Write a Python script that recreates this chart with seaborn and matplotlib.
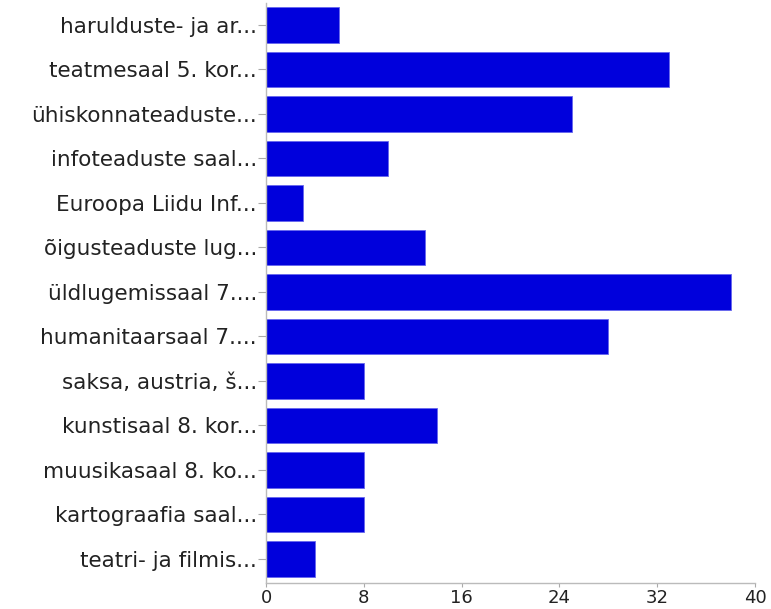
import matplotlib
matplotlib.use("Agg")
import matplotlib.pyplot as plt
import seaborn as sns
import pandas as pd

categories = [
    "harulduste- ja ar...",
    "teatmesaal 5. kor...",
    "ühiskonnateaduste...",
    "infoteaduste saal...",
    "Euroopa Liidu Inf...",
    "õigusteaduste lug...",
    "üldlugemissaal 7....",
    "humanitaarsaal 7....",
    "saksa, austria, š...",
    "kunstisaal 8. kor...",
    "muusikasaal 8. ko...",
    "kartograafia saal...",
    "teatri- ja filmis...",
]
values = [6, 33, 25, 10, 3, 13, 38, 28, 8, 14, 8, 8, 4]
x_ticks = [0, 8, 16, 24, 32, 40]

df = pd.DataFrame({"category": categories, "value": values})

sns.set_theme(style="white")
plt.rcParams["font.family"] = ["DejaVu Sans"]

fig = plt.figure(figsize=(7.71, 6.09), dpi=100)
ax = fig.add_axes([266 / 771, 26 / 609, (755 - 266) / 771, (583 - 2.7) / 609])

sns.barplot(data=df, x="value", y="category", orient="h", color="#0000DC",
            saturation=1, width=0.79, ax=ax, edgecolor="#6666EE", linewidth=0.6)

ax.set_xlim(0, 40)
ax.set_ylim(12.54, -0.5)
ax.set_xticks(x_ticks)
ax.set_xticklabels([str(t) for t in x_ticks], fontsize=13, color="#222222")
ax.tick_params(axis="y", labelsize=15.5, labelcolor="#222222", length=5.5,
               color="#aaaaaa", width=0.8, pad=1, left=True)
ax.tick_params(axis="x", length=3, color="#aaaaaa", width=0.8, pad=1.5, bottom=True)
ax.set_xlabel("")
ax.set_ylabel("")
for side in ["top", "right"]:
    ax.spines[side].set_visible(False)
for side in ["left", "bottom"]:
    ax.spines[side].set_color("#bbbbbb")
    ax.spines[side].set_linewidth(1.0)

fig.savefig("out.png", dpi=100)
